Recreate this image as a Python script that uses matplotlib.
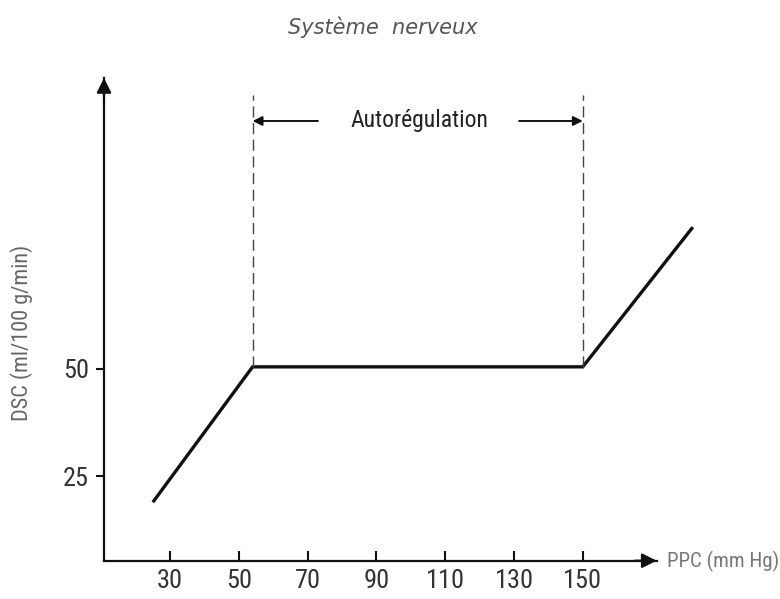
import matplotlib
matplotlib.use("Agg")
import matplotlib.pyplot as plt

# Data
ppc = [25, 54, 150, 182]          # PPC (mm Hg)
dsc = [19, 50.5, 50.5, 83]        # DSC (ml/100 g/min)
x_ticks = [30, 50, 70, 90, 110, 130, 150]
y_ticks = [25, 50]
autoreg_bounds = [54, 150]
title_text = "Système  nerveux"
autoreg_text = "Autorégulation"
ylabel_text = "DSC (ml/100 g/min)"
xlabel_text = "PPC (mm Hg)"

narrow = ["Roboto Condensed", "DejaVu Sans"]

fig = plt.figure(figsize=(7.8, 5.99), dpi=100)
fig.patch.set_facecolor("white")
ax = fig.add_axes([104 / 780, 1 - 560.7 / 599, 552.7 / 780, 482.7 / 599])
xmin, xmax = 10.8, 171.5
ymin, ymax = 5.4, 117.7
ax.set_xlim(xmin, xmax)
ax.set_ylim(ymin, ymax)

for s in ["top", "right"]:
    ax.spines[s].set_visible(False)
for s in ["left", "bottom"]:
    ax.spines[s].set_linewidth(1.6)
    ax.spines[s].set_color("#111111")
ax.annotate("", xy=(1, 0), xytext=(0.96, 0), xycoords="axes fraction",
            arrowprops=dict(arrowstyle="-|>", color="#111111", lw=1.6,
                            mutation_scale=22, shrinkA=0, shrinkB=0),
            annotation_clip=False)
ax.annotate("", xy=(0, 1), xytext=(0, 0.96), xycoords="axes fraction",
            arrowprops=dict(arrowstyle="-|>", color="#111111", lw=1.6,
                            mutation_scale=22, shrinkA=0, shrinkB=0),
            annotation_clip=False)

ax.plot(ppc, dsc, color="#111111", lw=2.4, solid_joinstyle="miter",
        solid_capstyle="butt", clip_on=False)

for xb in autoreg_bounds:
    ax.plot([xb, xb], [50.5, 113.7], color="#444444", lw=1.0,
            dashes=(8, 4), clip_on=False)

ya = 107.7
ax.annotate("", xy=(autoreg_bounds[0], ya), xytext=(73, ya),
            arrowprops=dict(arrowstyle="-|>", color="#111111", lw=1.4,
                            mutation_scale=14, shrinkA=0, shrinkB=0))
ax.annotate("", xy=(autoreg_bounds[1], ya), xytext=(131.5, ya),
            arrowprops=dict(arrowstyle="-|>", color="#111111", lw=1.4,
                            mutation_scale=14, shrinkA=0, shrinkB=0))
ax.text(sum(autoreg_bounds) / 2 + 0.5, ya, autoreg_text, ha="center", va="center",
        fontsize=17, color="#222222", family=narrow)

ax.set_xticks(x_ticks)
ax.set_xticklabels([str(v) for v in x_ticks], family=narrow, fontsize=19)
ax.set_yticks(y_ticks)
ax.set_yticklabels([str(v) for v in y_ticks], family=narrow, fontsize=19)
ax.tick_params(axis="x", direction="in", length=7, width=1.5, pad=6,
               colors="#111111", labelcolor="#333333")
ax.tick_params(axis="y", direction="out", length=6, width=1.5, pad=5,
               colors="#111111", labelcolor="#333333")

fig.text(22 / 780, 1 - 333 / 599, ylabel_text, rotation=90, ha="center",
         va="center", fontsize=16, color="#666666", family=narrow)
fig.text(667 / 780, 1 - 561 / 599, xlabel_text, ha="left", va="center",
         fontsize=15, color="#777777", family=narrow)
fig.text(383 / 780, 1 - 27 / 599, title_text, ha="center", va="center",
         fontsize=15, color="#555555", style="italic", family="DejaVu Sans")

fig.savefig("out.png", dpi=100, facecolor="white")
